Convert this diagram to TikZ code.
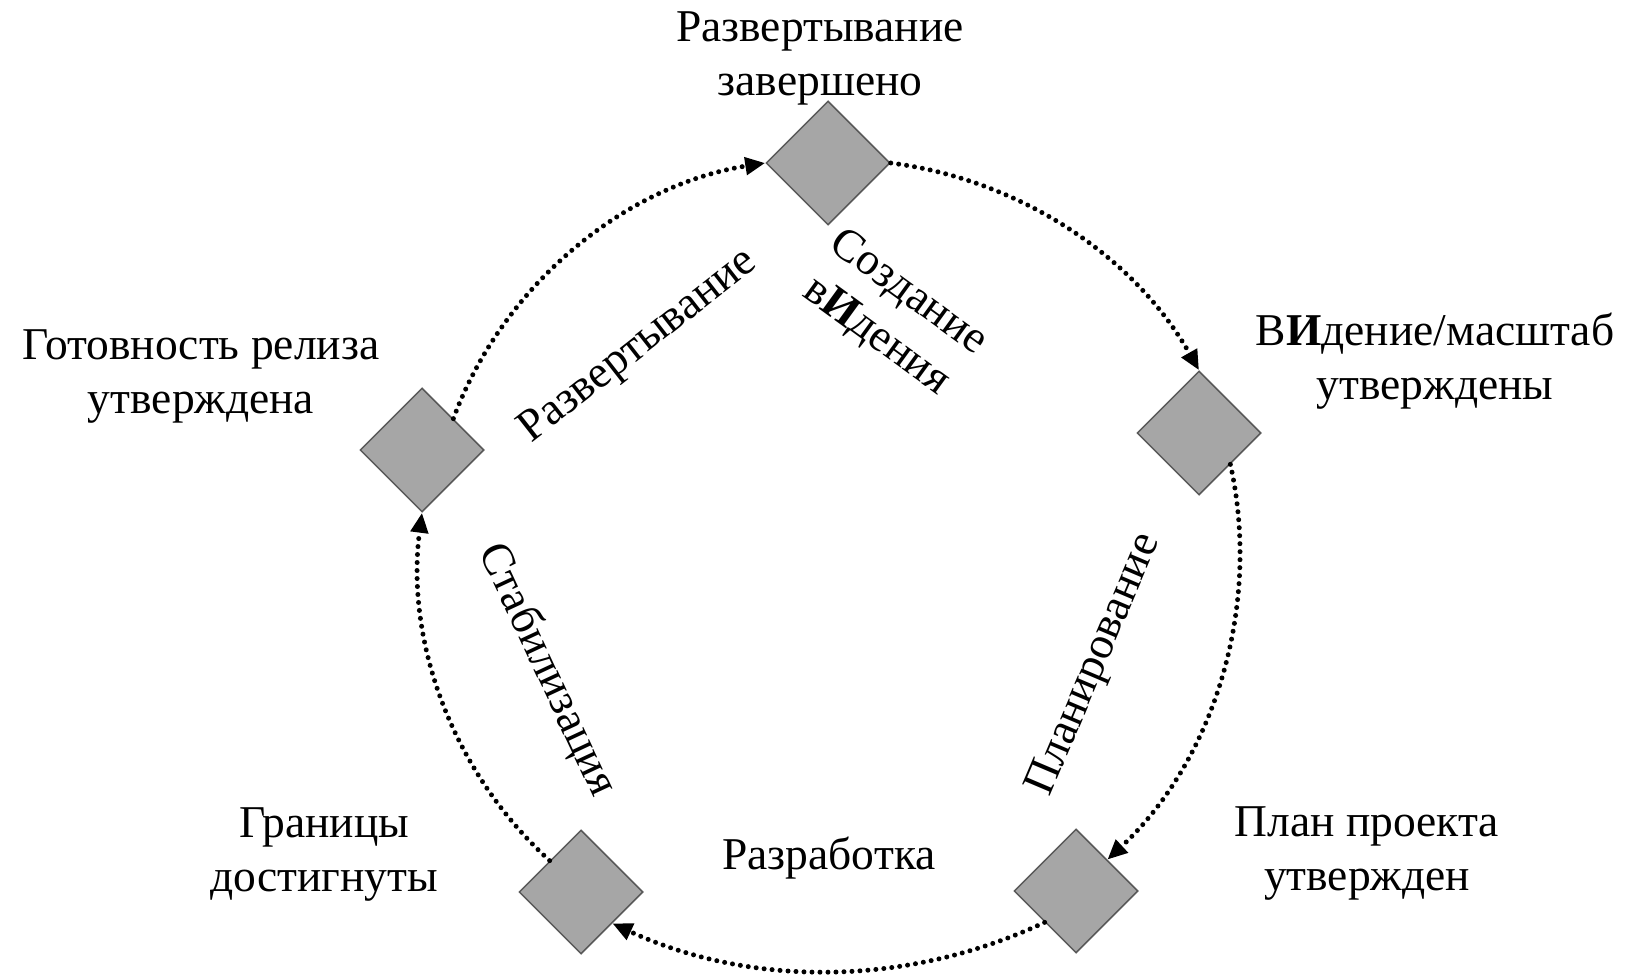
\documentclass[tikz,border=0pt]{standalone}
\usepackage{fontspec}
\setmainfont{Liberation Serif}
\usetikzlibrary{shapes.geometric,arrows.meta}
\begin{document}
\begin{tikzpicture}[x=1pt,y=-1pt,
  gem/.style={shape=diamond, draw=black!65, fill=black!35, line width=1.5pt,
    minimum width=124pt, minimum height=124pt, inner sep=0pt, aspect=1},
  lbl/.style={align=center, font=\fontsize{45.5}{54}\selectfont, inner sep=0pt},
  flow/.style={line width=5pt, dash pattern=on 0pt off 8pt, line cap=round,
    looseness=0.9, -{Triangle[length=20pt,width=17pt]}}]
\useasboundingbox (0,0) rectangle (1626,976);
% milestones
\node[gem] (d1) at (828,163) {};
\node[gem] (d2) at (1199,433) {};
\node[gem] (d3) at (1076,891) {};
\node[gem] (d4) at (581,892) {};
\node[gem] (d5) at (422,450) {};
% milestone labels
\node[lbl] (l1) at (820,58) {Развертывание\\завершено};
\node[lbl] (l2) at (1435,361) {В\textbf{И}дение/масштаб\\утверждены};
\node[lbl] (l3) at (1367,854) {План проекта\\утвержден};
\node[lbl] (l4) at (324,855) {Границы\\достигнуты};
\node[lbl] (l5) at (201,377) {Готовность релиза\\утверждена};
% phase labels
\node[lbl, rotate=-36] (p1) at (892,315) {Создание\\в\textbf{И}дения};
\node[lbl, rotate=67] (p2) at (1095,665) {Планирование};
\node[lbl] (p3) at (829,858) {Разработка};
\node[lbl, rotate=-65] (p4) at (547,670) {Стабилизация};
\node[lbl, rotate=38] (p5) at (639,347) {Развертывание};
% connectors
\draw[flow] (d1.east) to[bend left=26.6] (d2.north);
\draw[flow] (d2.south east) to[bend left=29.8] (d3.north east);
\draw[flow] (d3.south west) to[bend left=25] (d4.south east);
\draw[flow] (d4.north west) to[bend left=27.6] (d5.south);
\draw[flow] (d5.north east) to[bend left=30.4] (d1.west);
\end{tikzpicture}
\end{document}
